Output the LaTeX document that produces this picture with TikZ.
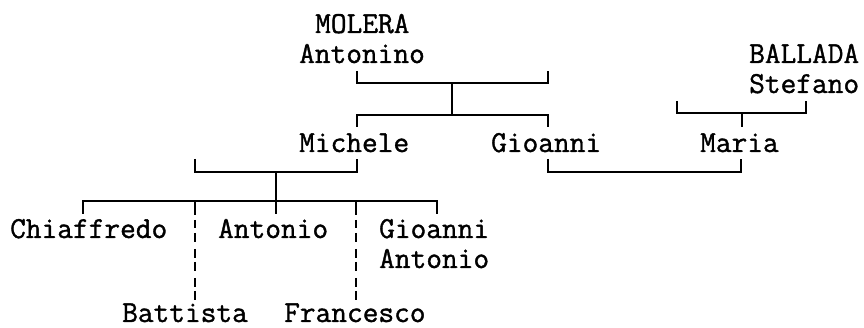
\documentclass[tikz,border=0pt]{standalone}
\usepackage{fontspec}
\newfontfamily\namefont{Latin Modern Mono}[FakeBold=1.2]
\begin{document}
\begin{tikzpicture}[x=1pt,y=-1pt,
  person/.style={font=\namefont\fontsize{30.5}{30.5}\selectfont, inner sep=0pt, anchor=base west},
  link/.style={line width=1.7pt, line join=miter},
  dlink/.style={line width=1.7pt, dash pattern=on 14pt off 5pt on 8pt off 5pt on 9pt off 7pt on 9pt off 4pt on 9pt off 7pt on 9pt off 4pt on 9pt off 20pt}]
\useasboundingbox (0,0) rectangle (864,328);
% people
\node[person] (molera) at (315,33) {MOLERA};
\node[person] (antonino) at (299,63) {Antonino};
\node[person] (ballada) at (749,63) {BALLADA};
\node[person] (stefano) at (749,93) {Stefano};
\node[person] (michele) at (299,152) {Michele};
\node[person] (gioanni) at (491,152) {Gioanni};
\node[person] (maria) at (700,152) {Maria};
\node[person] (chiaffredo) at (10,238) {Chiaffredo};
\node[person] (antonio) at (218,238) {Antonio};
\node[person] (gioanniA) at (379,238) {Gioanni};
\node[person] (gioanniB) at (379,268) {Antonio};
\node[person] (battista) at (122,322) {Battista};
\node[person] (francesco) at (284,322) {Francesco};
% junction points
\coordinate (a1) at (357,71);
\coordinate (a2) at (548,71);
\coordinate (aj) at (452,83);
\coordinate (ak) at (452,115);
\coordinate (c1) at (357,127);
\coordinate (c2) at (548,127);
\coordinate (b1) at (677,101);
\coordinate (b2) at (806,101);
\coordinate (bj) at (742,113);
\coordinate (bm) at (742,127);
\coordinate (g1) at (548,159);
\coordinate (g2) at (741,159);
\coordinate (gj) at (640,172);
\coordinate (p1) at (195,159);
\coordinate (p2) at (357,159);
\coordinate (pj) at (276,172);
\coordinate (kj) at (276,201);
\coordinate (k1) at (83,214);
\coordinate (k3) at (276,214);
\coordinate (k5) at (437,214);
\coordinate (d1t) at (195,201);
\coordinate (d1b) at (195,300);
\coordinate (d2t) at (356,201);
\coordinate (d2b) at (356,300);
% connectors
\draw[link] (a1) |- (aj) -| (a2);
\draw[link] (aj) -- (ak);
\draw[link] (c1) |- (ak) -| (c2);
\draw[link] (b1) |- (bj) -| (b2);
\draw[link] (bj) -- (bm);
\draw[link] (g1) |- (gj) -| (g2);
\draw[link] (p1) |- (pj) -| (p2);
\draw[link] (pj) -- (kj);
\draw[link] (k1) |- (kj) -| (k5);
\draw[link] (kj) -- (k3);
\draw[dlink] (d1t) -- (d1b);
\draw[dlink] (d2t) -- (d2b);
\end{tikzpicture}
\end{document}
